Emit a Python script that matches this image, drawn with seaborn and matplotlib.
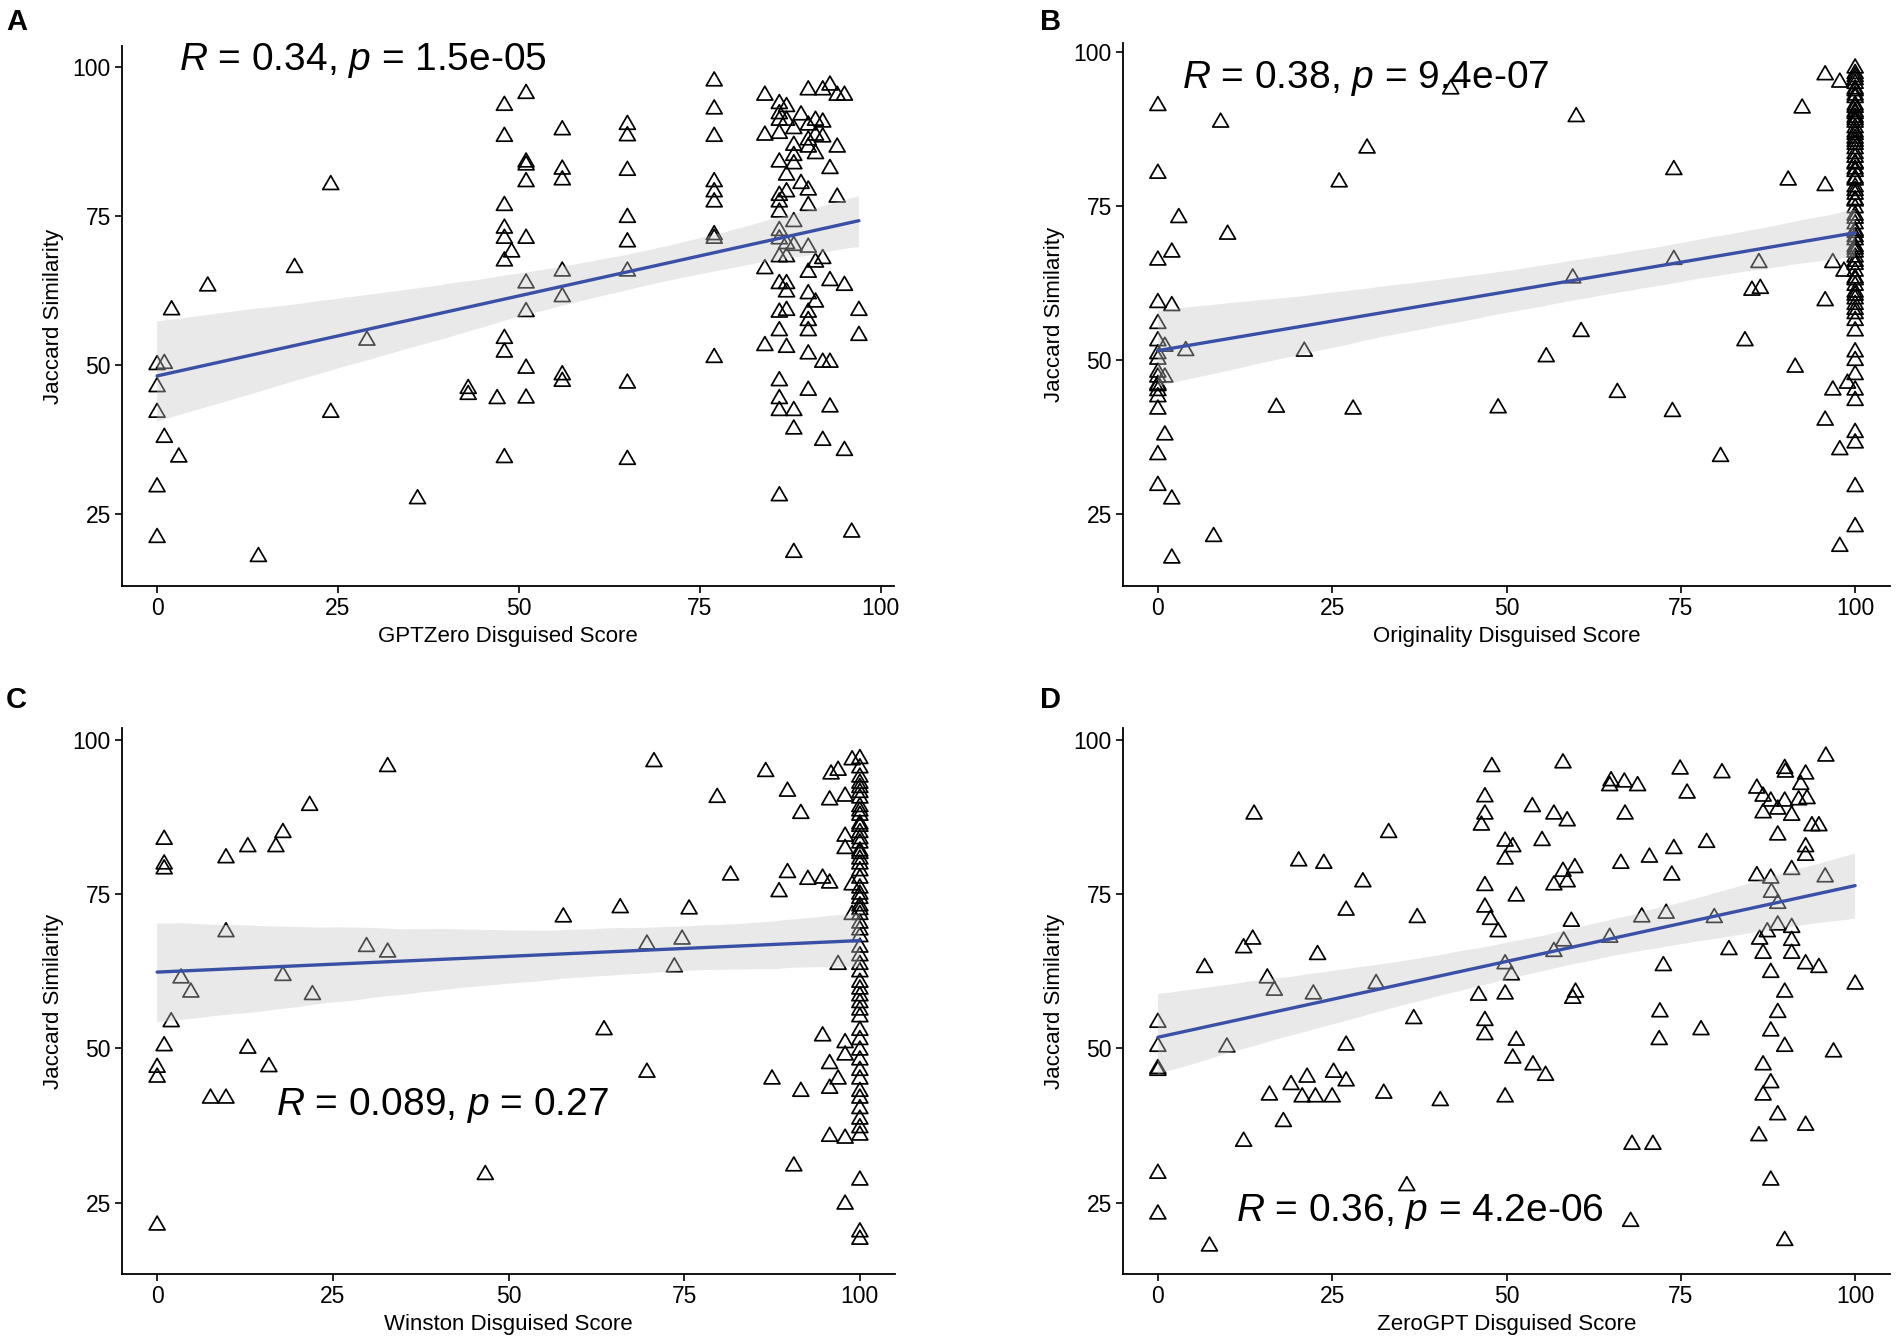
import numpy as np
import pandas as pd
import matplotlib
matplotlib.use("Agg")
import matplotlib.pyplot as plt
from matplotlib.path import Path
import seaborn as sns

sns.set_theme(style="ticks")
plt.rcParams['font.family'] = ['Liberation Sans', 'DejaVu Sans']
plt.rcParams['mathtext.fontset'] = 'custom'
plt.rcParams['mathtext.it'] = 'Liberation Sans:italic'
plt.rcParams['mathtext.rm'] = 'Liberation Sans'

# ---------------- data ----------------
# Panel A: GPTZero
gptzero_x = [0, 1, 0, 0, 1, 3, 0, 0, 2, 7, 19, 24, 29, 24, 36, 43, 43, 14,
             47, 48, 48, 48, 48, 48, 49, 48, 48, 48, 48,
             51, 51, 51, 51, 51, 51, 51, 51, 51,
             56, 56, 56, 56, 56, 56, 56,
             65, 65, 65, 65, 65, 65, 65, 65,
             77, 77, 77, 77, 77, 77, 77, 77, 77,
             84, 90, 92, 93, 94, 95,
             86, 87, 86, 86, 89, 91, 92, 90, 87, 88, 84, 86, 91, 92, 90, 88, 90, 91, 94, 86,
             88, 88, 87, 93, 89, 90, 86, 87, 86, 94, 90, 86, 88, 86, 86, 87, 88, 90, 84, 86,
             87, 92, 91, 90, 86, 87, 87, 90, 91, 93, 95, 86, 87, 90, 90, 97, 86, 90, 97, 84,
             87, 90, 92, 93, 86, 90, 86, 86, 88, 88, 93, 92, 95, 86, 96, 88]
gptzero_y = [50, 50.2, 46.3, 42, 37.8, 34.5, 29.5, 21, 59.2, 63.2, 66.3, 80.2, 54.1, 42, 27.5, 46, 45, 17.8,
             44.3, 93.5, 88.3, 76.7, 72.9, 71.2, 68.9, 67.4, 54.4, 52.1, 34.4,
             95.5, 84, 83.5, 80.7, 71.2, 63.7, 58.9, 49.4, 44.4,
             89.4, 82.8, 81, 65.7, 61.4, 48.3, 47.2,
             90.3, 88.4, 82.6, 74.7, 70.6, 65.7, 46.9, 34.1,
             97.6, 92.9, 88.3, 80.7, 79, 77.3, 71.8, 71.2, 51.2,
             95.2, 96.1, 96.1, 96.9, 95.2, 95.2,
             93.8, 93.3, 92.1, 91.0, 91.9, 91.0, 90.7, 90.2, 91.0, 89.6, 88.5, 88.8, 88.5, 88.2, 87.7, 86.8, 86.5, 85.4, 86.5, 84.0,
             85.1, 83.7, 81.8, 82.9, 80.4, 79.3, 78.4, 79.0, 77.3, 78.1, 76.7, 75.6, 74.0, 72.5, 71.1, 70.3, 70.0, 69.7, 66.1, 68.1,
             68.1, 67.8, 67.2, 65.5, 63.6, 63.6, 62.2, 61.9, 60.5, 64.1, 63.3, 58.8, 59.1, 58.8, 57.4, 59.1, 55.7, 55.7, 54.9, 53.2,
             52.9, 51.8, 50.4, 50.4, 47.3, 45.7, 44.3, 42.3, 42.3, 39.2, 42.9, 37.3, 35.6, 28.0, 21.9, 18.5]

# Panel B: Originality
originality_x = [0, 0, 0, 0, 0, 0, 0, 0, 0, 0, 0, 0, 0,
                 1, 1, 1, 2, 2, 2, 3, 4, 8, 9, 10, 17, 21, 26, 28, 30, 2,
                 42, 60, 74, 74, 59.5, 60.7, 55.7, 48.8, 65.9, 73.8, 80.7,
                 95.7, 97.8, 92.4, 90.4, 95.7, 86.2, 85.2, 86.4, 84.2, 91.4, 96.8, 98.4, 95.7, 96.8, 98.9, 95.7, 97.8, 97.8,
                 100, 100, 100, 100, 100, 100, 100, 100, 100, 100,
                 100, 100, 100, 100, 100, 100, 100, 100, 100, 100,
                 100, 100, 100, 100, 100, 100, 100, 100, 100, 100,
                 100, 100, 100, 100, 100, 100, 100, 100, 100, 100,
                 100, 100, 100, 100, 100, 100, 100,
                 100, 100, 100, 100, 100, 100, 100, 100, 100, 100,
                 100, 100, 100, 100, 100, 100, 100, 100, 100, 100,
                 0, 0, 0, 0, 100, 100, 100, 100]
originality_y = [91.3, 80.3, 66.2, 59.3, 55.9, 53.1, 50.1, 47.2, 45.8, 45, 42, 34.6, 29.6,
                 52.2, 47.2, 37.8, 27.4, 67.5, 58.8, 73.1, 51.5, 21.3, 88.6, 70.4, 42.3, 51.4, 78.9, 42, 84.4, 17.8,
                 94, 89.5, 80.9, 66.3, 63.3, 54.6, 50.5, 42.2, 44.7, 41.6, 34.3,
                 96.3, 95.1, 90.9, 79.2, 78.3, 65.8, 61.3, 61.6, 53.1, 48.8, 65.8, 64.4, 59.6, 45.1, 46.2, 40.2, 35.4, 19.7,
                 97.4, 96.0, 94.9, 93.7, 92.6, 91.4, 90.3, 89.4, 88.6, 87.7,
                 86.6, 85.5, 84.3, 82.9, 81.8, 80.6, 79.2, 78.1, 76.9, 75.8,
                 74.7, 73.5, 72.1, 70.7, 69.5, 68.4, 67.5, 66.7, 65.5, 64.4,
                 63.3, 62.1, 61.0, 59.9, 59.0, 58.2, 56.4, 54.7, 51.3, 49.9,
                 47.6, 45.1, 43.4, 38.2, 36.5, 29.4, 22.9,
                 96.5, 95.5, 93.0, 91.0, 89.0, 87.0, 85.0, 83.5, 81.0, 79.5,
                 77.5, 76.0, 73.0, 71.0, 70.0, 68.0, 66.0, 63.0, 60.5, 57.5,
                 48.0, 46.0, 44.0, 51.0, 94.0, 90.0, 86.0, 82.0]

# Panel C: Winston
winston_x = [0, 0, 0, 1, 1, 1, 1, 2, 3.4, 4.8, 9.8, 9.8, 7.6, 9.8, 12.9, 12.9, 15.9, 16.9, 17.9, 17.9,
             21.7, 22.1, 29.8, 32.8, 32.8, 46.7, 57.8, 63.6, 65.9, 69.7, 69.7, 70.7, 73.6, 74.7, 75.7, 79.7, 81.6, 86.6,
             98.9, 96.9, 95.9, 89.7, 95.7, 97.9, 91.6, 97.9, 97.9, 89.7, 92.6, 94.7, 95.7, 88.5, 98.9, 98.9, 96.9, 94.7, 97.9, 97.9,
             95.7, 96.9, 95.7, 87.5, 91.6, 95.7, 97.9, 90.6, 97.9,
             100, 100, 100, 100, 100, 100, 100, 100, 100, 100,
             100, 100, 100, 100, 100, 100, 100, 100, 100, 100,
             100, 100, 100, 100, 100, 100, 100, 100, 100, 100,
             100, 100, 100, 100, 100, 100, 100, 100, 100, 100,
             100, 100, 100, 100,
             100, 100, 100, 100, 100, 100, 100, 100, 100, 100, 100]
winston_y = [21.3, 46.9, 45.3, 50.4, 83.9, 79.9, 79.1, 54.3, 61.4, 59.1, 80.9, 68.9, 41.9, 41.9, 82.7, 50, 47, 82.7, 85, 61.8,
             89.4, 58.7, 66.5, 65.6, 95.7, 29.5, 71.3, 53, 72.8, 66.9, 46.1, 96.5, 63.2, 67.7, 72.6, 90.7, 78.1, 94.9,
             96.8, 95.1, 94.5, 91.7, 90.3, 90.9, 88.1, 84.4, 82.4, 78.5, 77.4, 77.6, 76.8, 75.4, 76.5, 71.7, 63.6, 52.0, 50.9, 48.9,
             47.5, 45.0, 43.5, 45.0, 43.0, 35.7, 35.4, 30.9, 24.7,
             94.0, 92.3, 90.6, 89.2, 87.8, 86.4, 85.0, 83.3, 81.6, 80.7,
             79.9, 78.8, 77.6, 74.3, 73.1, 71.7, 70.3, 69.2, 68.1, 66.4,
             65.0, 63.6, 62.4, 60.7, 59.6, 58.5, 57.4, 56.2, 55.1, 52.9,
             51.4, 49.7, 48.1, 46.4, 45.0, 43.0, 41.9, 40.2, 38.5, 37.1,
             35.9, 28.6, 20.2, 19.0,
             97.0, 95.5, 93.0, 91.5, 88.5, 86.0, 84.0, 82.0, 76.0, 75.0, 72.5]

# Panel D: ZeroGPT
zerogpt_x = [0, 0, 0, 0, 0, 0, 7.4, 6.7, 9.9, 12.3, 13.6, 13.8, 15.7, 16.7, 12.3, 16, 18, 19.1, 20.7, 22.6,
             25, 21.4, 25.2, 27, 27, 20.2, 23.8, 22.9, 22.3, 27, 29.4, 33.1, 31.3, 32.4, 36.7, 37.2, 35.7, 40.5, 47.9, 46.9,
             46.9, 46.4, 49.8, 50.9, 49.8, 46.9, 46.9, 47.7, 48.8, 49.8, 50.7, 46, 49.8, 46.9, 46.9, 50.9, 49.8, 51.4, 51.4,
             58.1, 53.7, 56.8, 58.7, 55.1, 65, 66.9, 68.8, 64.8, 67, 74.9, 75.9, 80.9, 74, 78.7, 66.4, 70.5, 73.7, 58.1, 59.8,
             56.8, 58.7, 59.3, 69.4, 72.9, 79.8, 64.8, 58.2, 56.8, 72.5, 59.9, 59.5, 72, 71.9, 77.9, 53.8, 55.6, 68, 71, 67.8,
             85.9, 86.8, 87.9, 89.9, 91.9, 93.1, 89.9, 90, 92.9, 92.2, 95.8, 86.8, 88.9, 90.9, 93.8, 94.8, 88.9, 92.9, 92.9, 85.9,
             87.9, 90.9, 95.7, 88, 88.9, 88.9, 90.9, 87.4, 86.3, 90.9, 90.9, 81.9, 86.8, 92.9, 94.8, 87.9, 89.9, 100, 88.9, 87.9,
             89.9, 96.9, 86.8, 87.9, 86.8, 88.9, 92.9, 86.2, 87.9, 89.9]
zerogpt_y = [54.2, 50.3, 46.7, 46.4, 29.7, 23.1, 17.9, 63.1, 50.2, 66.3, 67.7, 88.0, 61.4, 59.4, 34.9, 42.4, 38.1, 44.1, 42.1, 42.1,
             42.1, 45.3, 46.1, 44.7, 50.5, 80.4, 80, 65.2, 58.8, 72.4, 77, 85, 60.5, 42.7, 54.8, 71.2, 27.7, 41.5, 95.7, 90.8,
             88, 86.2, 83.6, 82.7, 80.7, 76.4, 72.9, 70.9, 68.9, 63.7, 61.9, 58.6, 58.8, 54.5, 52.2, 48.4, 42.1, 74.7, 51.3,
             96.3, 89.2, 88, 86.9, 83.7, 93.4, 93.2, 92.6, 92.6, 88, 95.3, 91.4, 94.7, 82.4, 83.4, 80, 81, 78.1, 78.7, 79.3,
             76.5, 77, 70.6, 71.3, 71.9, 71.2, 68, 67.4, 65.7, 63.4, 59.1, 58.1, 55.9, 51.4, 53, 47.3, 45.6, 34.4, 34.4, 21.9,
             92.2, 90.9, 90.1, 90.1, 90.3, 90.5, 95.4, 94.8, 94.5, 92.8, 97.4, 88.2, 88.8, 87.8, 86.1, 86.1, 84.6, 82.7, 81.3, 78,
             77.6, 79, 77.8, 75.3, 73.5, 70, 69.6, 68.9, 67.7, 67.5, 65.4, 66, 65.4, 63.7, 63.1, 62.3, 59.1, 60.4, 55.8, 52.8,
             50.3, 49.4, 47.3, 44.4, 42.4, 39.2, 37.5, 35.8, 28.6, 18.8]

panel_letters = ["A", "B", "C", "D"]
x_titles = ["GPTZero Disguised Score", "Originality Disguised Score",
            "Winston Disguised Score", "ZeroGPT Disguised Score"]
cor_labels = [r"$R$ = 0.34, $p$ = 1.5e-05", r"$R$ = 0.38, $p$ = 9.4e-07",
              r"$R$ = 0.089, $p$ = 0.27", r"$R$ = 0.36, $p$ = 4.2e-06"]
x_ticks = [0, 25, 50, 75, 100]
y_ticks = [25, 50, 75, 100]

series = [(gptzero_x, gptzero_y), (originality_x, originality_y),
          (winston_x, winston_y), (zerogpt_x, zerogpt_y)]
for i, (xs, ys) in enumerate(series):
    if len(xs) != len(ys):
        raise ValueError(f"panel {i}: {len(xs)} x vs {len(ys)} y")

# ---------------- layout / style ----------------
W, H = 1902, 1342
fig = plt.figure(figsize=(W / 100, H / 100), dpi=100)

boxes = [(122, 46, 894, 586), (1123, 43, 1890, 586),
         (122, 728, 895, 1274), (1123, 728, 1890, 1274)]
xlims = [(-4.85, 101.85), (-5, 105), (-5, 105), (-5, 105)]
ylims = [(12.9, 103.5), (13.3, 101.5), (13.4, 102), (13.4, 102)]
label_pos = [(3, 101), (3.4, 95.7), (16.9, 40.7), (11.2, 23.6)]
letter_pos = [(6, 22), (1040, 22), (6, 700), (1040, 700)]

tri = Path([(0, 1), (-0.866, -0.5), (0.866, -0.5), (0, 1)],
           [Path.MOVETO, Path.LINETO, Path.LINETO, Path.CLOSEPOLY])
line_blue = "#3a4fa6"

for i, (xs, ys) in enumerate(series):
    l, t, r, b = boxes[i]
    ax = fig.add_axes([l / W, 1 - b / H, (r - l) / W, (b - t) / H])
    df = pd.DataFrame({"score": xs, "jaccard": ys})

    # points
    sns.regplot(data=df, x="score", y="jaccard", ax=ax, fit_reg=False, marker=tri,
                color="black",
                scatter_kws=dict(s=175, facecolors="none", edgecolors="black",
                                 linewidths=1.25, alpha=1, zorder=2))
    # confidence band
    n_before = len(ax.collections)
    sns.regplot(data=df, x="score", y="jaccard", ax=ax, scatter=False, ci=95,
                color="0.5", seed=3, line_kws=dict(alpha=0))
    for coll in ax.collections[n_before:]:
        coll.set_facecolor((0.78, 0.78, 0.78))
        coll.set_edgecolor("none")
        coll.set_alpha(0.38)
        coll.set_zorder(3)
    # fitted line
    sns.regplot(data=df, x="score", y="jaccard", ax=ax, scatter=False, ci=None,
                color=line_blue, line_kws=dict(lw=2.4, zorder=4))

    ax.set_xlim(*xlims[i])
    ax.set_ylim(*ylims[i])
    ax.set_xticks(x_ticks)
    ax.set_yticks(y_ticks)
    ax.set_xlabel(x_titles[i], fontsize=16, color="black", labelpad=4)
    ax.set_ylabel("Jaccard Similarity", fontsize=16, color="black", labelpad=6)
    ax.tick_params(axis="both", labelsize=16.5, colors="black", length=5, width=1.2, pad=3)
    for side in ["top", "right"]:
        ax.spines[side].set_visible(False)
    for side in ["left", "bottom"]:
        ax.spines[side].set_linewidth(1.3)
        ax.spines[side].set_color("black")
    ax.set_facecolor("white")

    lx, ly = label_pos[i]
    ax.text(lx, ly, cor_labels[i], fontsize=28, ha="left", va="center", color="black", zorder=5)

    px, py = letter_pos[i]
    fig.text(px / W, 1 - py / H, panel_letters[i], fontsize=21, fontweight="bold",
             ha="left", va="center", color="black")

fig.savefig("out.png", dpi=100, facecolor="white")
